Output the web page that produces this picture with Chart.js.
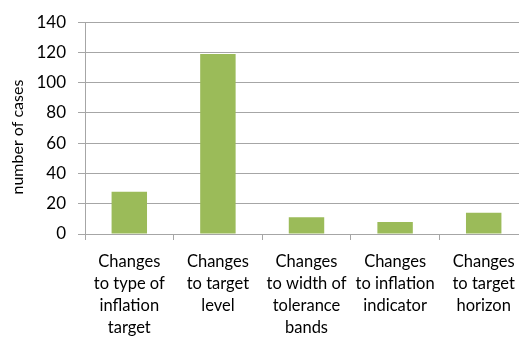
<!DOCTYPE html>
<html>
<head>
<meta charset="utf-8">
<script src="https://cdn.jsdelivr.net/npm/chart.js@4"></script>
<style>
  html, body { margin: 0; padding: 0; background: #fff; overflow: hidden; }
  #wrap { width: 519px; height: 341px; overflow: hidden; }
  canvas { display: block; }
</style>
</head>
<body>
<div id="wrap"><canvas id="c" width="532" height="341"></canvas></div>
<script>
// Number of inflation-targeting framework changes, by type
const categories = [
  ["Changes", "to type of", "inflation", "target"],
  ["Changes", "to target", "level"],
  ["Changes", "to width of", "tolerance", "bands"],
  ["Changes", "to inflation", "indicator"],
  ["Changes", "to target", "horizon"]
];
const cases = [28, 119, 11, 8, 14];
const yTicks = [0, 20, 40, 60, 80, 100, 120, 140];
const yTitle = 'number of cases';

const FONT = "Lato, 'Open Sans', sans-serif";

// Vertical axis title, set slightly below the middle of the plot
const axisTitle = {
  id: 'axisTitle',
  afterDraw(chart) {
    const { ctx, chartArea } = chart;
    const cy = (chartArea.top + chartArea.bottom) / 2 + 9;
    ctx.save();
    ctx.translate(18, cy);
    ctx.rotate(-Math.PI / 2);
    ctx.fillStyle = '#000';
    ctx.font = `16px ${FONT}`;
    ctx.textAlign = 'center';
    ctx.textBaseline = 'middle';
    ctx.fillText(yTitle, 0, 0);
    ctx.restore();
  }
};

new Chart(document.getElementById('c'), {
  type: 'bar',
  data: {
    labels: categories,
    datasets: [{
      data: cases,
      backgroundColor: '#9BBB59',
      borderWidth: 0,
      categoryPercentage: 1.0,
      barPercentage: 0.4
    }]
  },
  plugins: [axisTitle],
  options: {
    responsive: false,
    animation: false,
    devicePixelRatio: 1,
    layout: { padding: { top: 22, right: 4, left: 0, bottom: 0 } },
    plugins: { legend: { display: false }, tooltip: { enabled: false } },
    scales: {
      x: {
        offset: true,
        grid: {
          offset: true,
          drawOnChartArea: false,
          drawTicks: true,
          tickLength: 6,
          color: '#A6A6A6'
        },
        border: { display: true, color: '#A6A6A6' },
        ticks: {
          color: '#000',
          padding: 11,
          maxRotation: 0,
          autoSkip: false,
          font: { family: FONT, size: 16.5, lineHeight: 1.32 }
        },
        afterFit: s => { s.height = 107; }
      },
      y: {
        min: 0,
        max: 140,
        afterBuildTicks: s => { s.ticks = yTicks.map(v => ({ value: v })); },
        grid: { color: '#A6A6A6', tickLength: 7 },
        border: { display: true, color: '#A6A6A6' },
        ticks: {
          color: '#000',
          padding: 12,
          font: { family: FONT, size: 17 }
        },
        afterFit: s => { s.width = 85; }
      }
    }
  }
});
</script>
</body>
</html>
